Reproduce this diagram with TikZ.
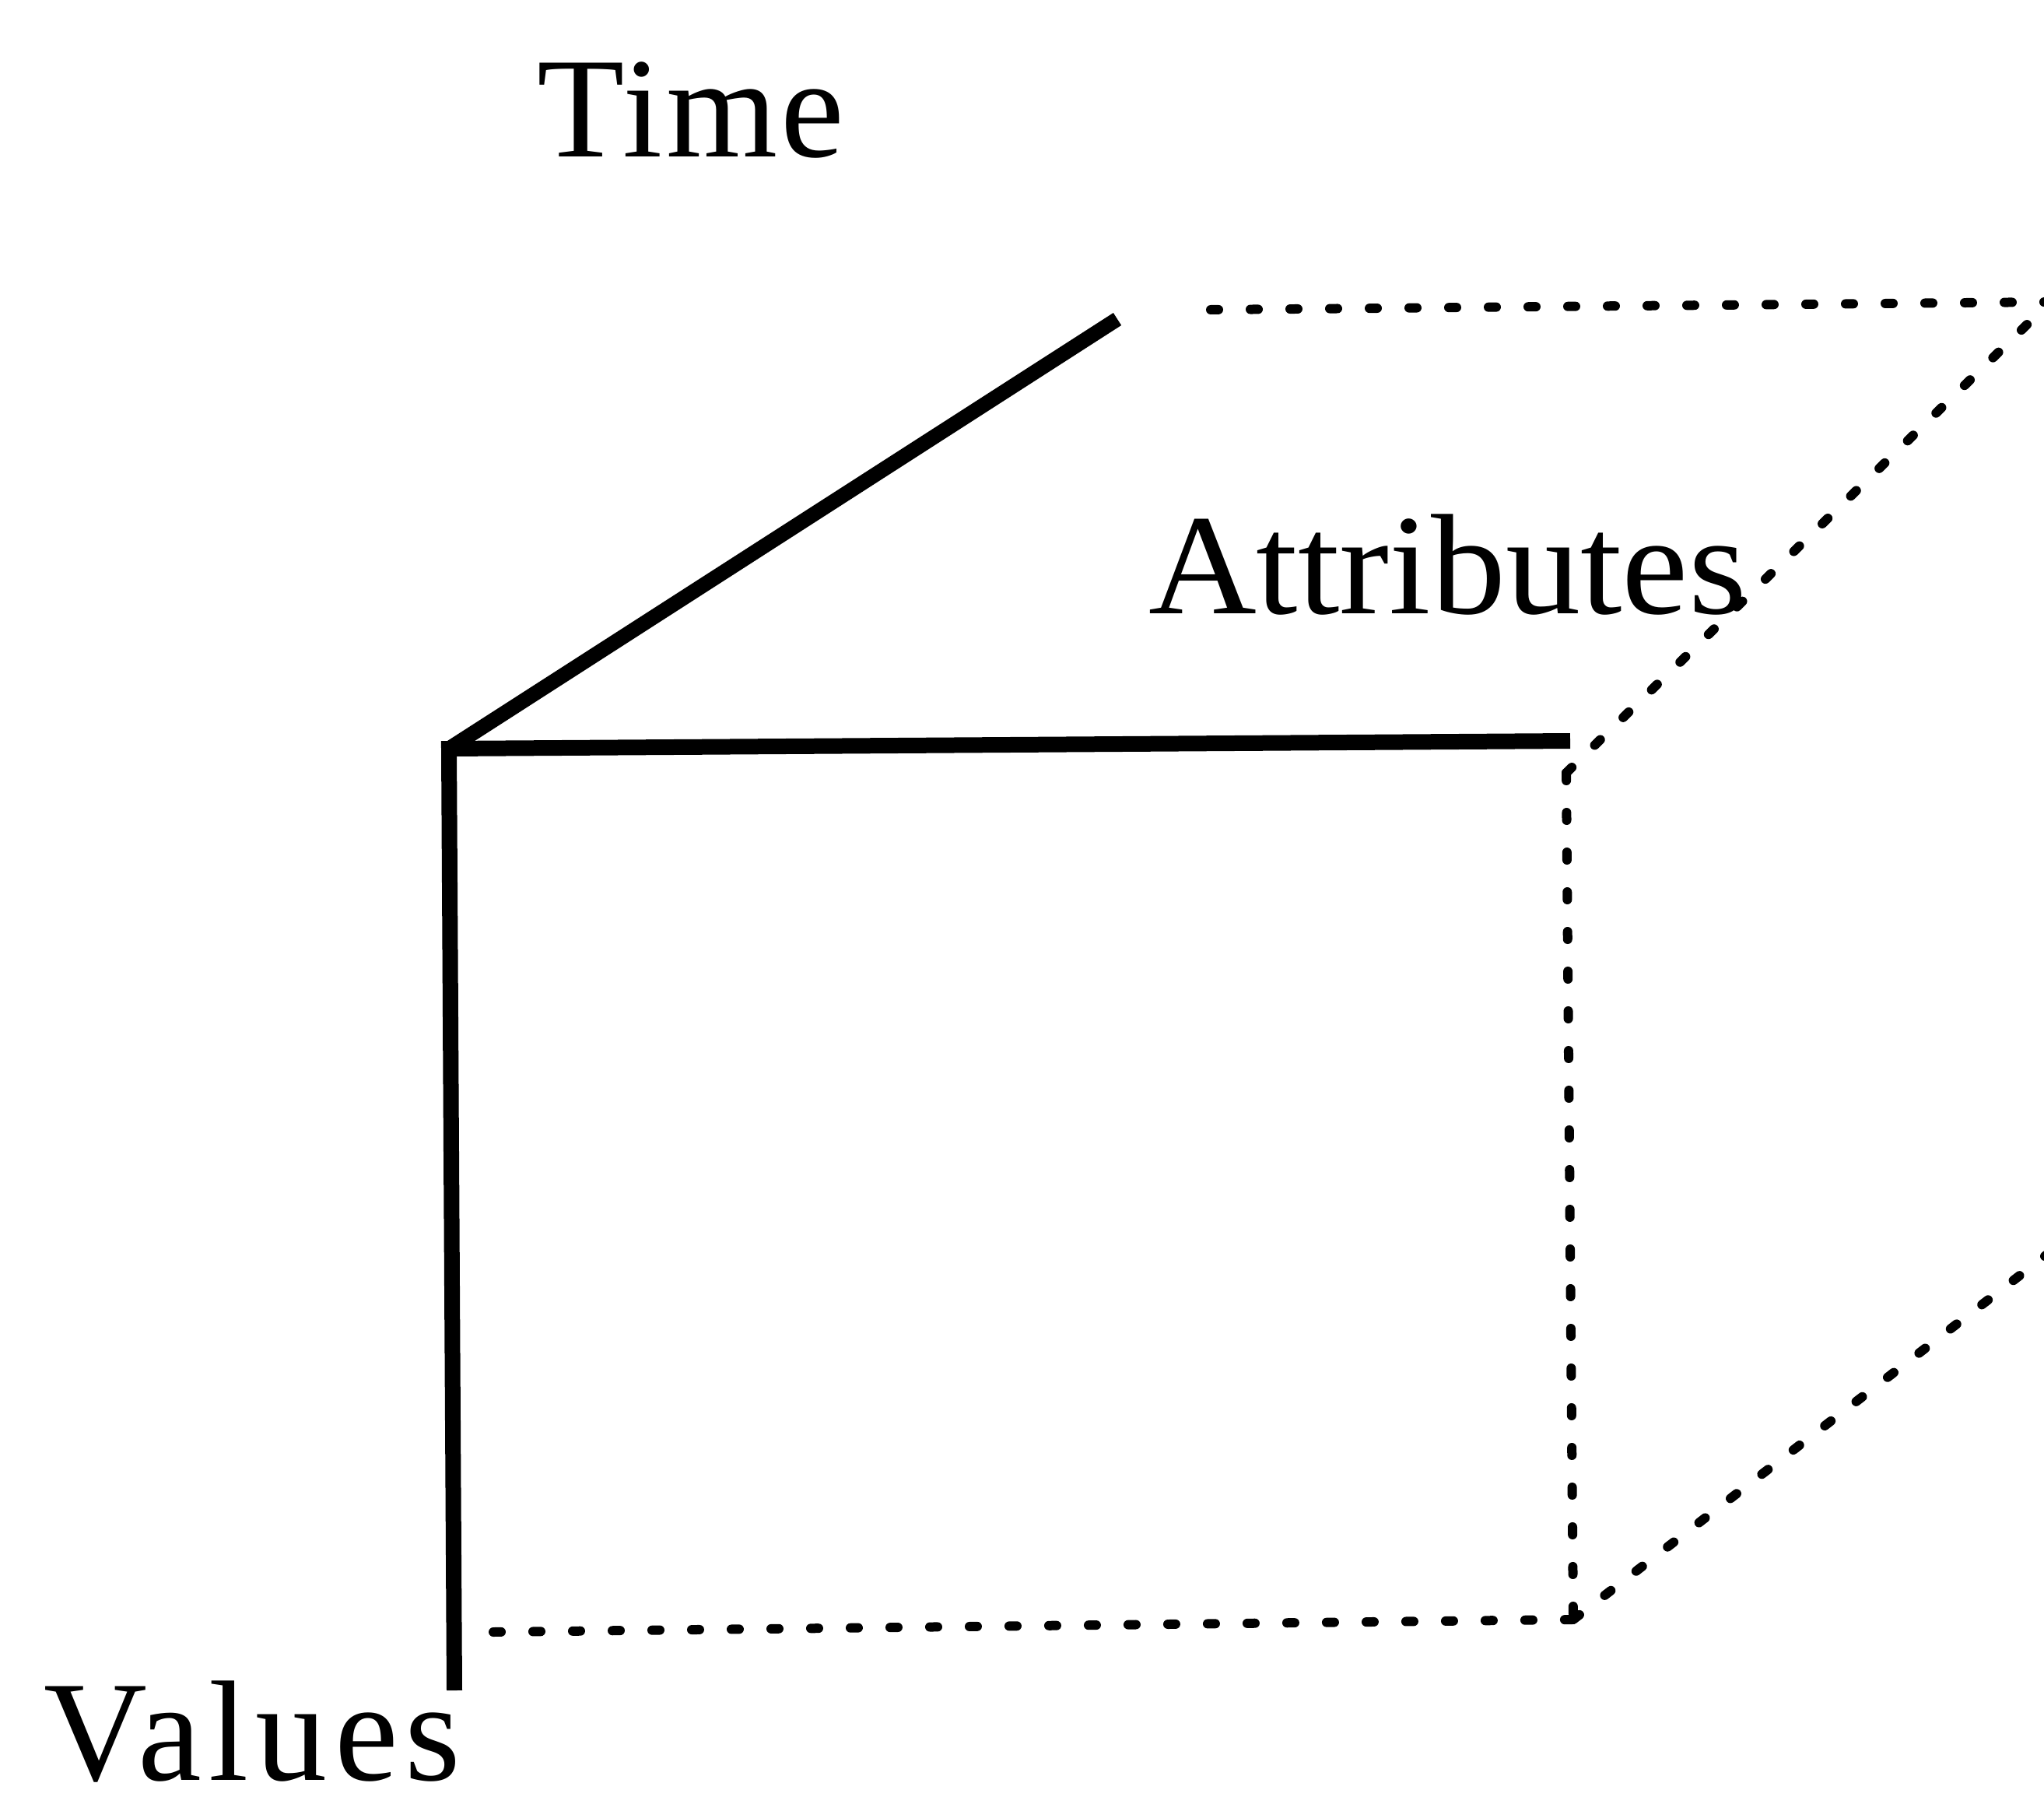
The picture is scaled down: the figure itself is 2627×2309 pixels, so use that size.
\documentclass[tikz,border=0pt]{standalone}
\usepackage{fontspec}
\setmainfont{Liberation Serif}
\begin{document}
\begin{tikzpicture}[x=1pt,y=-1pt,
  axis/.style={line width=20pt, line join=miter},
  timeaxis/.style={line width=19pt},
  dotline/.style={line width=12pt, line cap=round, dash pattern=on 10pt off 41pt},
  lbl/.style={inner sep=0pt, outer sep=0pt, anchor=base west, font=\fontsize{184}{200}\selectfont}]
\useasboundingbox (0,0) rectangle (2627,2309);
\clip (0,0) rectangle (2627,2309);
% corner coordinates
\coordinate (O) at (577,962);
\coordinate (Tend) at (1436,410);
\coordinate (Aend) at (2018,952);
\coordinate (Vend) at (584,2172);
\coordinate (P) at (2013,993);
\coordinate (B) at (2022,2081);
\coordinate (C) at (2635,388);
\coordinate (D) at (2645,1601);
\coordinate (Bs) at (634,2097);
\coordinate (Ts) at (1556,398);
% solid axes
\draw[axis] (Aend) -- (O) -- (Vend);
\draw[timeaxis] (O) -- (Tend);
% dotted box edges
\draw[dotline] (Bs) -- (B);
\draw[dotline] (P) -- (B);
\draw[dotline] (P) -- (C);
\draw[dotline] (Ts) -- (C);
\draw[dotline] (B) -- (D);
% labels
\node[lbl] (time) at (690,202) {\addfontfeature{LetterSpace=2.5}Time};
\node[lbl] (attr) at (1476,788) {\scalebox{1.045}[1]{Attributes}};
\node[lbl] (vals) at (56,2287) {\addfontfeature{LetterSpace=5}Values};
\end{tikzpicture}
\end{document}
